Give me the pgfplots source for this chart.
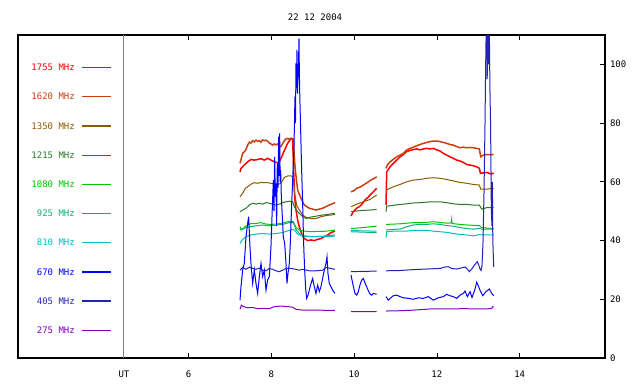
\documentclass[border=0pt]{standalone}
\usepackage{fontspec}
\setmainfont{DejaVu Sans Mono}
\usepackage{pgfplots}
\pgfplotsset{compat=1.18}
\definecolor{cA}{RGB}{255,0,0}
\definecolor{cB}{RGB}{200,64,16}
\definecolor{cC}{RGB}{140,90,0}
\definecolor{cD}{RGB}{40,120,40}
\definecolor{cE}{RGB}{0,200,0}
\definecolor{cF}{RGB}{16,176,112}
\definecolor{cG}{RGB}{0,192,192}
\definecolor{cH}{RGB}{0,0,255}
\definecolor{cI}{RGB}{34,34,187}
\definecolor{cJ}{RGB}{128,0,192}
\begin{document}
\begin{tikzpicture}[font=\fontsize{9}{10}\selectfont]
\useasboundingbox (0,0) rectangle (640pt,384pt);
\node at (315pt,366.5pt) {22 12 2004};
\begin{axis}[at={(18pt,26pt)}, anchor=south west, scale only axis,
  width=587pt, height=323pt,
  xmin=1.882, xmax=16.06, ymin=0, ymax=110,
  xtick={6,8,10,12,14}, ytick={0,20,...,100},
  tick align=inside, xtick pos=both, ytick pos=right, yticklabel pos=right,
  major tick length=5pt,
  every tick/.style={black, line width=0.8pt},
  axis line style={line width=1.2pt},
  unbounded coords=jump,
  /pgf/number format/assume math mode=true,
  tick label style={font=\fontsize{9}{10}\selectfont},
  xticklabel style={yshift=-9pt},
  yticklabel style={xshift=1.5pt},
  extra x ticks={4.442}, extra x tick labels={UT},
  extra x tick style={grid=major, major grid style={draw=gray, line width=1pt}, major tick length=0pt},
  clip=true]
% legend
\addplot[cA, line width=1.1pt] coordinates {(3.435,99)(4.128,99)};
\addplot[cB, line width=1.1pt] coordinates {(3.435,89)(4.128,89)};
\addplot[cC, line width=1.1pt] coordinates {(3.435,79)(4.128,79)};
\addplot[cD, line width=1.1pt] coordinates {(3.435,69)(4.128,69)};
\addplot[cE, line width=1.1pt] coordinates {(3.435,59.1)(4.128,59.1)};
\addplot[cF, line width=1.1pt] coordinates {(3.435,49.2)(4.128,49.2)};
\addplot[cG, line width=1.1pt] coordinates {(3.435,39.3)(4.128,39.3)};
\addplot[cH, line width=1.1pt] coordinates {(3.435,29.3)(4.128,29.3)};
\addplot[cI, line width=1.1pt] coordinates {(3.435,19.4)(4.128,19.4)};
\addplot[cJ, line width=1.1pt] coordinates {(3.435,9.5)(4.128,9.5)};
\node[anchor=east, text=cA, inner sep=0pt] at (axis cs:3.258,99) {1755 MHz};
\node[anchor=east, text=cB, inner sep=0pt] at (axis cs:3.258,89) {1620 MHz};
\node[anchor=east, text=cC, inner sep=0pt] at (axis cs:3.258,79) {1350 MHz};
\node[anchor=east, text=cD, inner sep=0pt] at (axis cs:3.258,69) {1215 MHz};
\node[anchor=east, text=cE, inner sep=0pt] at (axis cs:3.258,59.1) {1080 MHz};
\node[anchor=east, text=cF, inner sep=0pt] at (axis cs:3.258,49.2) {925 MHz};
\node[anchor=east, text=cG, inner sep=0pt] at (axis cs:3.258,39.3) {810 MHz};
\node[anchor=east, text=cH, inner sep=0pt] at (axis cs:3.258,29.3) {670 MHz};
\node[anchor=east, text=cI, inner sep=0pt] at (axis cs:3.258,19.4) {405 MHz};
\node[anchor=east, text=cJ, inner sep=0pt] at (axis cs:3.258,9.5) {275 MHz};
% 1755
\addplot[cA, line width=1.5pt] coordinates {(7.244,63.4)(7.268,64.6)(7.348,65.7)(7.429,66.8)(7.509,67.6)(7.590,67.4)(7.670,67.6)(7.751,67.9)(7.831,67.4)(7.912,68.0)(7.992,67.4)(8.073,66.8)(8.153,66.5)(8.194,66.8)(8.234,68.0)(8.314,70.6)(8.395,73.1)(8.476,74.8)(8.516,74.4)(8.540,64.0)(8.564,54.9)(8.596,50.4)(8.636,47.0)(8.677,44.7)(8.717,43.0)(8.757,41.5)(8.798,40.7)(8.878,40.0)(8.959,40.2)(9.039,40.0)(9.120,40.4)(9.200,40.7)(9.281,41.3)(9.361,41.9)(9.442,42.7)(9.538,43.2)
(9.6,nan)
(9.925,48.4)(9.981,49.8)(10.062,51.0)(10.142,51.7)(10.223,53.0)(10.263,53.8)(10.343,54.8)(10.384,55.5)(10.464,56.6)(10.545,57.8)
(10.65,nan)
(10.771,52.1)(10.787,63.4)(10.868,65.1)(10.948,66.3)(11.029,67.4)(11.109,68.5)(11.190,69.3)(11.270,70.3)(11.351,70.7)(11.431,71.0)(11.512,71.2)(11.592,70.9)(11.673,71.2)(11.753,71.4)(11.834,71.2)(11.914,71.4)(11.995,70.9)(12.075,70.5)(12.156,69.7)(12.236,69.1)(12.317,68.5)(12.397,68.0)(12.478,67.4)(12.558,67.1)(12.639,66.6)(12.719,65.9)(12.800,65.7)(12.880,65.5)(12.961,65.1)(13.025,64.6)(13.050,62.9)(13.200,63.2)(13.300,62.7)(13.372,62.9)};
% 1620
\addplot[cB, line width=1.5pt] coordinates {(7.244,66.3)(7.268,67.5)(7.308,69.7)(7.348,70.2)(7.389,71.0)(7.429,72.5)(7.469,73.5)(7.509,73.2)(7.550,74.0)(7.590,73.6)(7.630,74.2)(7.670,73.8)(7.711,74.0)(7.751,73.5)(7.791,74.3)(7.831,74.0)(7.872,74.2)(7.912,73.8)(7.952,73.2)(7.992,72.9)(8.033,72.5)(8.073,72.9)(8.113,72.6)(8.153,72.9)(8.194,72.0)(8.234,72.0)(8.274,73.0)(8.314,74.0)(8.355,74.6)(8.395,74.8)(8.435,74.5)(8.476,74.8)(8.532,74.6)(8.556,68.5)(8.580,64.0)(8.636,57.2)(8.717,54.4)(8.798,52.1)(8.918,51.0)(9.079,50.4)(9.240,51.0)(9.401,52.1)(9.538,52.9)
(9.6,nan)
(9.925,56.6)(10.000,57.0)(10.062,57.8)(10.142,58.2)(10.223,58.9)(10.303,59.6)(10.384,60.4)(10.464,61.0)(10.545,61.7)
(10.65,nan)
(10.771,64.6)(10.803,65.7)(10.868,66.8)(10.948,67.7)(11.029,68.5)(11.109,69.1)(11.190,69.7)(11.270,70.8)(11.351,71.4)(11.431,71.8)(11.512,72.3)(11.592,72.7)(11.673,73.1)(11.753,73.4)(11.834,73.7)(11.914,73.9)(11.995,73.9)(12.075,73.7)(12.156,73.4)(12.236,73.1)(12.317,72.7)(12.397,72.5)(12.478,72.0)(12.558,71.6)(12.639,71.8)(12.719,71.6)(12.800,71.7)(12.880,71.6)(12.961,71.4)(13.025,71.2)(13.058,68.5)(13.122,69.1)(13.203,69.3)(13.372,69.3)};
% 1350
\addplot[cC, line width=1pt] coordinates {(7.244,54.9)(7.308,56.1)(7.373,57.8)(7.429,58.3)(7.509,59.2)(7.590,59.7)(7.670,59.5)(7.751,59.8)(7.831,59.7)(7.912,59.7)(7.992,59.5)(8.073,59.3)(8.153,59.1)(8.234,59.5)(8.314,61.5)(8.395,62.0)(8.476,62.0)(8.532,61.7)(8.564,56.1)(8.612,52.1)(8.677,50.4)(8.757,48.7)(8.838,47.9)(8.959,47.5)(9.079,47.5)(9.200,48.1)(9.321,48.5)(9.442,48.7)(9.538,48.9)
(9.6,nan)
(9.925,51.5)(10.062,52.4)(10.223,53.2)(10.384,54.0)(10.545,55.5)
(10.65,nan)
(10.771,56.6)(10.803,57.4)(10.948,58.3)(11.109,59.1)(11.270,60.0)(11.431,60.6)(11.592,60.8)(11.753,61.2)(11.914,61.4)(12.075,61.2)(12.236,60.8)(12.397,60.3)(12.558,59.8)(12.719,59.5)(12.880,59.1)(13.025,58.9)(13.058,57.5)(13.203,57.5)(13.372,57.8)};
% 1215
\addplot[cD, line width=1pt] coordinates {(7.244,49.8)(7.308,50.4)(7.389,51.0)(7.469,52.1)(7.550,52.7)(7.630,52.4)(7.711,52.7)(7.791,52.4)(7.872,52.9)(7.952,52.7)(8.033,52.4)(8.113,52.1)(8.194,52.4)(8.274,52.9)(8.355,53.2)(8.435,53.4)(8.516,53.2)(8.556,51.5)(8.636,49.8)(8.717,48.7)(8.838,47.5)(8.918,47.9)(9.079,48.3)(9.240,48.7)(9.401,49.0)(9.538,49.3)
(9.6,nan)
(9.925,49.8)(10.142,50.2)(10.384,50.4)(10.545,50.6)
(10.65,nan)
(10.771,49.8)(10.787,51.7)(10.948,52.0)(11.109,52.3)(11.270,52.5)(11.431,52.8)(11.592,52.9)(11.753,53.1)(11.914,53.2)(12.075,53.2)(12.236,52.9)(12.397,52.5)(12.558,52.3)(12.719,52.3)(12.880,52.1)(13.025,52.1)(13.082,50.7)(13.203,51.2)(13.372,51.3)};
% 1080
\addplot[cE, line width=1pt] coordinates {(7.244,44.7)(7.292,43.6)(7.348,44.5)(7.429,45.3)(7.509,45.8)(7.630,45.8)(7.751,46.1)(7.872,45.6)(7.992,45.5)(8.113,45.6)(8.234,45.8)(8.355,46.3)(8.476,46.6)(8.532,46.4)(8.596,44.5)(8.677,43.6)(8.757,43.3)(8.918,43.0)(9.079,43.1)(9.240,43.1)(9.401,43.3)(9.538,43.6)
(9.6,nan)
(9.925,44.1)(10.200,44.4)(10.545,44.9)
(10.65,nan)
(10.771,45.5)(10.948,45.6)(11.109,45.7)(11.270,45.9)(11.431,46.1)(11.592,46.1)(11.753,46.2)(11.914,46.4)(12.075,46.2)(12.236,45.9)(12.347,46.0)(12.357,47.2)(12.367,45.8)(12.558,45.5)(12.719,45.3)(12.880,45.2)(13.025,45.1)(13.082,44.4)(13.372,44.1)};
% 925
\addplot[cF, line width=1pt] coordinates {(7.244,43.6)(7.348,44.2)(7.469,44.7)(7.630,45.0)(7.791,45.3)(7.952,45.0)(8.113,45.3)(8.274,45.5)(8.435,46.1)(8.532,46.1)(8.596,43.8)(8.677,42.4)(8.798,41.6)(8.999,41.3)(9.240,41.5)(9.538,41.9)
(9.6,nan)
(9.925,43.0)(10.545,42.7)
(10.65,nan)
(10.771,43.6)(10.948,43.8)(11.109,43.9)(11.270,44.7)(11.431,45.3)(11.592,45.5)(11.753,45.5)(11.914,45.7)(12.075,45.5)(12.236,45.1)(12.397,44.9)(12.558,44.4)(12.719,44.1)(12.880,43.9)(13.025,44.1)(13.082,43.9)(13.372,43.9)};
% 810
\addplot[cG, line width=1pt] coordinates {(7.244,39.0)(7.308,40.4)(7.389,41.3)(7.509,41.9)(7.630,42.2)(7.791,42.4)(7.952,42.2)(8.113,42.4)(8.274,42.7)(8.395,43.3)(8.500,43.8)(8.556,43.6)(8.636,42.2)(8.757,41.5)(8.999,41.3)(9.240,41.3)(9.538,41.5)
(9.6,nan)
(9.925,43.4)(10.545,43.2)
(10.65,nan)
(10.771,41.0)(10.787,43.0)(10.948,43.2)(11.270,43.2)(11.431,43.5)(11.753,43.5)(11.914,43.2)(12.075,43.0)(12.236,42.8)(12.397,42.4)(12.558,42.1)(12.719,41.9)(12.880,41.6)(13.025,42.0)(13.203,41.9)(13.372,41.9)};
% 275
\addplot[cJ, line width=1pt] coordinates {(7.244,16.6)(7.276,18.0)(7.324,17.5)(7.429,17.1)(7.550,17.2)(7.670,16.8)(7.791,16.9)(7.952,16.8)(8.073,17.5)(8.234,17.7)(8.395,17.5)(8.516,17.3)(8.596,16.6)(8.757,16.3)(9.079,16.3)(9.538,16.2)
(9.6,nan)
(9.925,15.8)(10.545,15.8)
(10.65,nan)
(10.771,16.0)(11.109,16.1)(11.431,16.3)(11.834,16.7)(12.236,16.7)(12.639,16.8)(13.041,16.7)(13.323,16.8)(13.347,17.5)(13.372,17.5)};
% 670
\addplot[cH, line width=1pt] coordinates {(7.244,19.7)(7.268,24.3)(7.308,30)(7.348,32.2)(7.389,41.3)(7.429,45.8)(7.453,48.1)(7.485,37.9)(7.509,32.2)(7.550,25.4)(7.590,30)(7.630,25.4)(7.670,22)(7.711,27.7)(7.751,32.2)(7.791,27.7)(7.831,30)(7.872,23.1)(7.912,26.6)(7.952,27.7)(7.992,37.9)(8.017,48.1)(8.049,60.6)(8.065,50)(8.081,68.5)(8.097,55)(8.113,59.5)(8.129,45)(8.145,66.3)(8.162,58)(8.178,75.4)(8.190,62)(8.202,76.5)(8.214,60)(8.226,64)(8.242,55)(8.258,50.4)(8.290,41.3)(8.323,39)(8.355,32.2)(8.379,25.4)(8.403,28.8)(8.435,32.2)(8.459,39)(8.484,49.3)(8.516,60.6)(8.548,72)(8.572,89)(8.584,80)(8.596,100.3)(8.608,92)(8.620,104.9)(8.633,90)(8.645,95.8)(8.657,100)(8.669,108.8)(8.677,98)(8.685,91.2)(8.709,77.6)(8.733,64)(8.757,52.7)(8.781,39)(8.806,30)(8.830,23.7)(8.854,20.3)(8.886,21.4)(8.918,23.1)(8.959,25.4)(8.999,27.1)(9.039,24.3)(9.079,22)(9.120,24.8)(9.160,22.6)(9.200,24.3)(9.240,27.1)(9.281,30)(9.321,32.2)(9.345,34.5)(9.369,28.8)(9.401,25.4)(9.442,24.3)(9.482,23.1)(9.538,22)
(9.6,nan)
(9.925,28.3)(9.966,25.4)(10.021,22.0)(10.062,21.4)(10.102,22.6)(10.142,24.9)(10.182,26.5)(10.223,27.1)(10.263,25.6)(10.303,24.3)(10.343,22.9)(10.384,21.8)(10.424,21.4)(10.464,22.0)(10.545,21.7)
(10.65,nan)
(10.771,20.9)(10.827,19.7)(10.884,20.5)(10.948,21.2)(11.029,21.4)(11.109,20.9)(11.190,20.5)(11.310,20.3)(11.431,20.0)(11.552,20.5)(11.673,20.3)(11.793,20.9)(11.914,19.7)(12.035,20.5)(12.156,20.9)(12.236,21.7)(12.317,21.2)(12.397,20.9)(12.478,20.3)(12.558,21.4)(12.639,22.0)(12.679,22.8)(12.735,20.9)(12.800,22.6)(12.848,20.6)(12.921,23.5)(12.961,25.8)(12.993,24.8)(13.041,23.1)(13.106,21.2)(13.186,22.6)(13.267,23.5)(13.323,22.0)(13.372,21.2)};
% 405
\addplot[cI, line width=1pt] coordinates {(7.244,29.9)(7.308,30.9)(7.389,30.2)(7.469,30.9)(7.550,30.5)(7.630,30.2)(7.711,30.6)(7.791,29.9)(7.872,29.7)(7.952,30.5)(8.033,30.2)(8.113,29.7)(8.194,29.4)(8.274,29.9)(8.355,30.5)(8.435,30.6)(8.516,30.4)(8.596,30.2)(8.677,29.9)(8.757,30.2)(8.918,29.7)(9.079,29.7)(9.240,29.9)(9.321,30.8)(9.401,30.6)(9.538,30.2)
(9.6,nan)
(9.925,29.4)(10.545,29.6)
(10.65,nan)
(10.771,29.7)(11.109,29.8)(11.431,30.1)(11.753,30.3)(12.075,30.5)(12.196,31.0)(12.276,31.1)(12.357,30.5)(12.478,30.3)(12.599,30.7)(12.679,31.0)(12.735,30.3)(12.784,29.4)(12.840,30.3)(12.921,31.9)(12.977,32.8)(13.009,31.7)(13.041,30.3)(13.066,29.8)(13.090,31.6)(13.114,39.6)(13.138,56.6)(13.162,80)(13.178,100)(13.190,112)(13.205,112)(13.215,95)(13.228,112)(13.240,112)(13.252,100)(13.265,115)(13.280,92)(13.296,80)(13.315,50)(13.330,45)(13.340,60)(13.350,40)(13.372,31)};
\end{axis}
\end{tikzpicture}
\end{document}
